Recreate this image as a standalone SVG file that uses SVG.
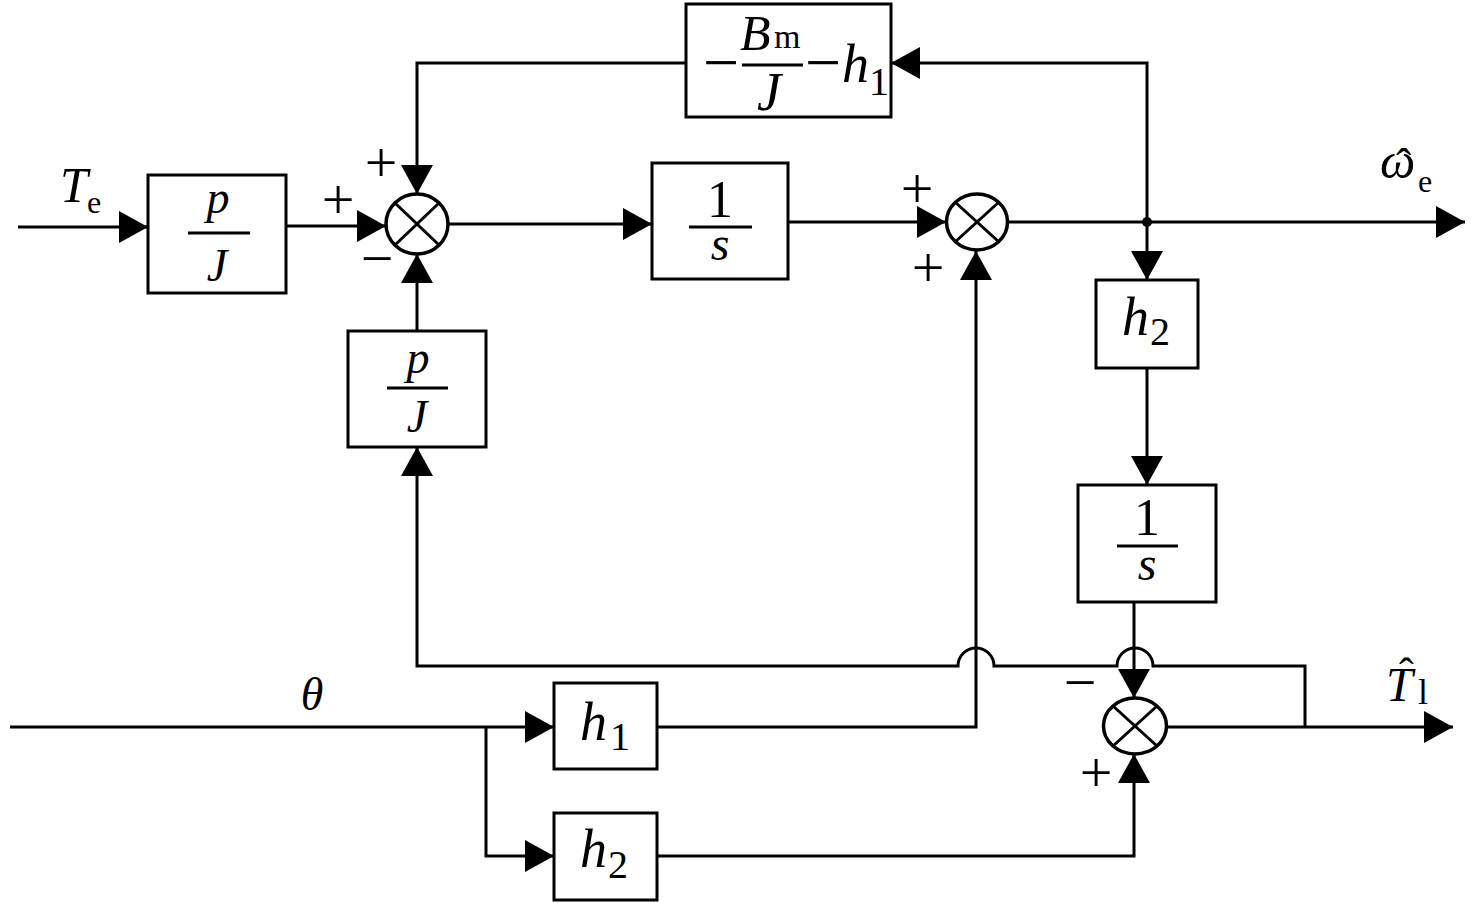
<svg xmlns="http://www.w3.org/2000/svg" width="1476" height="903" viewBox="0 0 1476 903">
<style>
.blk{fill:#fff;stroke:#000;stroke-width:3}
.ln{fill:none;stroke:#000;stroke-width:3}
.sum{fill:#fff;stroke:#000;stroke-width:3.5}
.x{stroke:#000;stroke-width:3}
.bar{stroke:#000;stroke-width:3}
text{font-family:"Liberation Serif","Times New Roman",serif;fill:#000}
.it{font-style:italic}
.up{font-style:normal}
.f46{font-size:46px}
.f54{font-size:54px}
.sg{font-size:58px}
.mid{text-anchor:middle}
</style>
<defs>
<marker id="ar" markerUnits="userSpaceOnUse" markerWidth="30" markerHeight="34" refX="29" refY="16" orient="auto">
<path d="M0,0 L29,16 L0,32 Z" fill="#000"/>
</marker>
</defs>

<g id="connectors">
<path class="ln" d="M18,227 H148" marker-end="url(#ar)"/>
<path class="ln" d="M286,226 H386" marker-end="url(#ar)"/>
<path class="ln" d="M448,224 H652" marker-end="url(#ar)"/>
<path class="ln" d="M788,222 H946" marker-end="url(#ar)"/>
<path class="ln" d="M1007,222 H1465" marker-end="url(#ar)"/>
<path class="ln" d="M1147,222 V63 H891" marker-end="url(#ar)"/>
<path class="ln" d="M686,63 H417 V194" marker-end="url(#ar)"/>
<path class="ln" d="M1147,222 V280" marker-end="url(#ar)"/>
<path class="ln" d="M1147,368 V485" marker-end="url(#ar)"/>
<path class="ln" d="M417,331 V254" marker-end="url(#ar)"/>
<path class="ln" d="M1134,602 V698" marker-end="url(#ar)"/>
<path class="ln" d="M1305,727 V666 H1153 A18,18 0 0 0 1117,666 H994 A18,18 0 0 0 958,666 H417 V447" marker-end="url(#ar)"/>
<path class="ln" d="M1167,727 H1453" marker-end="url(#ar)"/>
<path class="ln" d="M10,727 H554" marker-end="url(#ar)"/>
<path class="ln" d="M486,727 V856 H554" marker-end="url(#ar)"/>
<path class="ln" d="M657,727 H976 V251" marker-end="url(#ar)"/>
<path class="ln" d="M657,856 H1134 V754" marker-end="url(#ar)"/>
<circle cx="1147" cy="222" r="5" fill="#000"/>
</g>

<g id="gain_pJ_top">
<rect class="blk" x="148" y="175" width="138" height="118"/>
<line class="bar" x1="188" y1="233" x2="250" y2="233"/>
<text class="it f46 mid"><tspan x="218" y="213">p</tspan><tspan x="217" y="281">J</tspan></text>
</g>

<g id="sum1">
<ellipse class="sum" cx="417" cy="224" rx="31" ry="30"/>
<line class="x" x1="395" y1="203" x2="439" y2="245"/>
<line class="x" x1="395" y1="245" x2="439" y2="203"/>
<text class="sg mid" x="338" y="219">+</text>
<text class="sg mid" x="381" y="182">+</text>
<text class="sg mid" x="377" y="278">−</text>
</g>

<g id="integrator_top">
<rect class="blk" x="652" y="163" width="136" height="116"/>
<line class="bar" x1="689" y1="227" x2="752" y2="227"/>
<text class="mid"><tspan x="720" y="217" style="font-size:52px">1</tspan><tspan class="it" x="720" y="260" style="font-size:48px">s</tspan></text>
</g>

<g id="sum2">
<ellipse class="sum" cx="977" cy="222" rx="30.5" ry="28"/>
<line class="x" x1="955" y1="202" x2="999" y2="242"/>
<line class="x" x1="955" y1="242" x2="999" y2="202"/>
<text class="sg mid" x="917" y="208">+</text>
<text class="sg mid" x="928" y="287">+</text>
</g>

<g id="feedback_gain">
<rect class="blk" x="686" y="4" width="205" height="113"/>
<line class="bar" x1="742" y1="65" x2="803" y2="65"/>
<text style="font-size:64px"><tspan x="703" y="84">−</tspan><tspan class="it" x="740" y="50" style="font-size:50px">B</tspan><tspan class="up" x="774" y="48" style="font-size:34px">m</tspan><tspan class="it" x="757" y="110" style="font-size:54px">J</tspan><tspan x="805" y="84">−</tspan><tspan class="it" x="842" y="82" style="font-size:54px">h</tspan><tspan class="up" x="869" y="95" style="font-size:40px">1</tspan></text>
</g>

<g id="gain_pJ_bottom">
<rect class="blk" x="348" y="331" width="138" height="116"/>
<line class="bar" x1="387" y1="388" x2="448" y2="388"/>
<text class="it f46 mid"><tspan x="418" y="373">p</tspan><tspan x="417" y="432">J</tspan></text>
</g>

<g id="h2_right">
<rect class="blk" x="1096" y="280" width="102" height="88"/>
<text class="it f54"><tspan x="1122" y="335">h</tspan><tspan class="up" x="1150" y="345" style="font-size:40px">2</tspan></text>
</g>

<g id="integrator_right">
<rect class="blk" x="1078" y="485" width="138" height="117"/>
<line class="bar" x1="1117" y1="546" x2="1178" y2="546"/>
<text class="mid"><tspan x="1147" y="535" style="font-size:52px">1</tspan><tspan class="it" x="1147" y="580" style="font-size:48px">s</tspan></text>
</g>

<g id="sum3">
<ellipse class="sum" cx="1135" cy="726" rx="31.5" ry="28"/>
<line class="x" x1="1113" y1="706" x2="1157" y2="746"/>
<line class="x" x1="1113" y1="746" x2="1157" y2="706"/>
<text class="sg mid" x="1080" y="702">−</text>
<text class="sg mid" x="1096" y="792">+</text>
</g>

<g id="h1_bottom">
<rect class="blk" x="554" y="683" width="103" height="86"/>
<text class="it f54"><tspan x="580" y="740">h</tspan><tspan class="up" x="610" y="750" style="font-size:40px">1</tspan></text>
</g>

<g id="h2_bottom">
<rect class="blk" x="554" y="813" width="103" height="87"/>
<text class="it f54"><tspan x="580" y="867">h</tspan><tspan class="up" x="608" y="878" style="font-size:40px">2</tspan></text>
</g>

<g id="labels">
<text class="it"><tspan x="60" y="202" style="font-size:50px">T</tspan><tspan class="up" x="87" y="213" style="font-size:32px">e</tspan></text>
<text class="it mid" x="312" y="710" style="font-size:46px">θ</text>
<text class="it"><tspan x="1380" y="178" style="font-size:50px">ω</tspan><tspan class="up" x="1396" y="181" style="font-size:46px">ˆ</tspan><tspan class="up" x="1418" y="192" style="font-size:32px">e</tspan></text>
<text class="it"><tspan x="1386" y="701" style="font-size:48px">T</tspan><tspan class="up" x="1399" y="688" style="font-size:44px">ˆ</tspan><tspan class="up" x="1418" y="704" style="font-size:36px">l</tspan></text>
</g>
</svg>
